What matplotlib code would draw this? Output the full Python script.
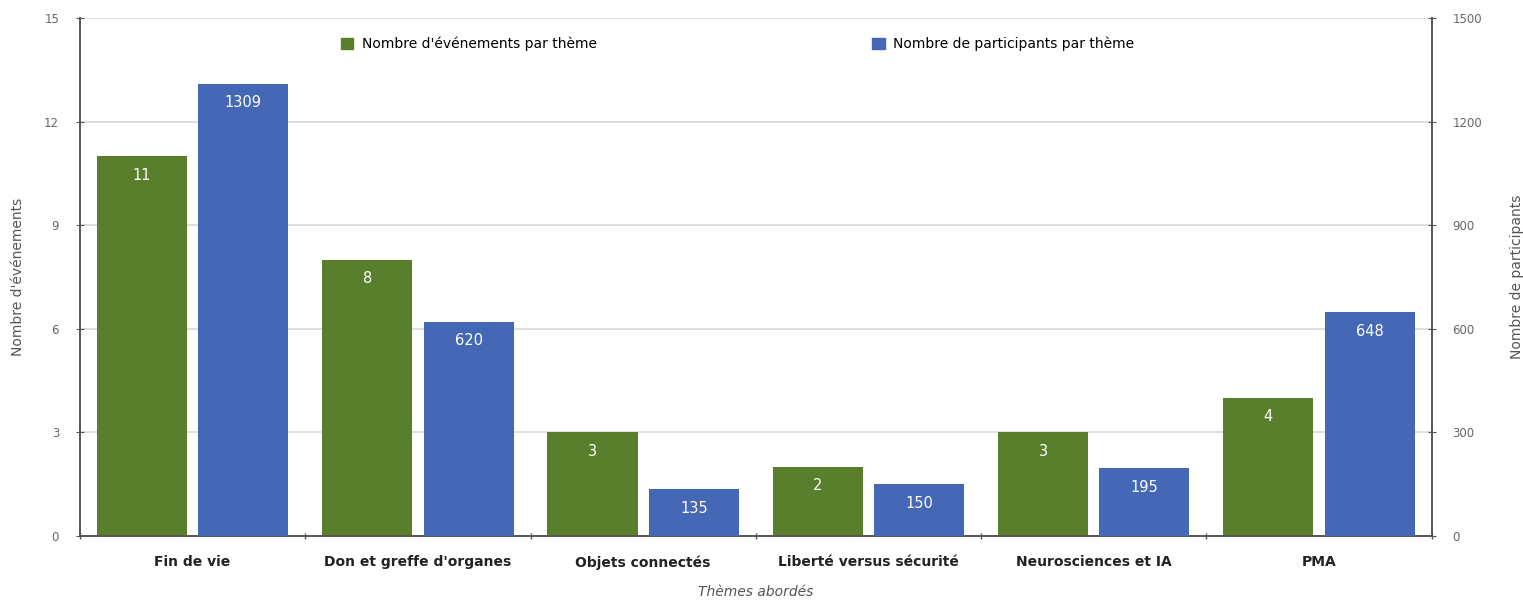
import numpy as np
import matplotlib
matplotlib.use("Agg")
import matplotlib.pyplot as plt
from matplotlib.patches import Patch

# Data
themes = ["Fin de vie", "Don et greffe d'organes", "Objets connectés",
          "Liberté versus sécurité", "Neurosciences et IA", "PMA"]
evenements = [11, 8, 3, 2, 3, 4]
participants = [1309, 620, 135, 150, 195, 648]

left_ticks = [0, 3, 6, 9, 12, 15]
right_ticks = [0, 300, 600, 900, 1200, 1500]

GREEN = "#5a7f2c"
BLUE = "#4467b6"
AXIS = "#555555"
GRID = "#d9d9d9"

fig = plt.figure(figsize=(15.23, 6.0), dpi=100)
ax = fig.add_axes([0.0525, 0.107, 0.8875, 0.863])
ax2 = ax.twinx()

x = np.arange(len(themes))
w = 0.4
b1 = ax.bar(x - 0.225, evenements, width=w, color=GREEN, zorder=3)
b2 = ax2.bar(x + 0.225, participants, width=w, color=BLUE, zorder=3)

for rect, v in zip(b1, evenements):
    ax.text(rect.get_x() + rect.get_width() / 2, v - 0.55, str(v),
            ha="center", va="center", color="white", fontsize=10.5, zorder=4)
for rect, v in zip(b2, participants):
    ax2.text(rect.get_x() + rect.get_width() / 2, v - 55, str(v),
             ha="center", va="center", color="white", fontsize=10.5, zorder=4)

ax.set_xlim(-0.5, len(themes) - 0.5)
ax.set_ylim(0, 15)
ax2.set_ylim(0, 1500)
ax.set_yticks(left_ticks)
ax2.set_yticks(right_ticks)

# category labels between group boundaries, ticks at boundaries
ax.set_xticks(x)
ax.set_xticklabels(themes, fontsize=10, fontweight="bold", color="#222222")
ax.tick_params(axis="x", length=0, pad=14)
ax.set_xticks(np.arange(-0.5, len(themes)), minor=True)
ax.tick_params(axis="x", which="minor", length=5, direction="inout",
               color=AXIS, width=1)

ax.tick_params(axis="y", length=6, direction="inout", color=AXIS,
               labelsize=8.5, labelcolor="#666666", pad=12)
ax2.tick_params(axis="y", length=6, direction="inout", color=AXIS,
                labelsize=8.5, labelcolor="#666666", pad=12)

for t in left_ticks[1:]:
    ax.axhline(t, color=GRID, linewidth=1.2, zorder=1)

for a in (ax, ax2):
    a.spines["top"].set_visible(False)
    for s in ("left", "right", "bottom"):
        a.spines[s].set_color(AXIS)
        a.spines[s].set_linewidth(1.2)

ax.set_ylabel("Nombre d'événements", fontsize=10, color="#555555", labelpad=14)
ax2.set_ylabel("Nombre de participants", fontsize=10, color="#555555", labelpad=20)
ax.set_xlabel("Thèmes abordés", fontsize=10, style="italic", color="#555555",
              labelpad=11)

leg_green = ax2.legend(handles=[Patch(color=GREEN, label="Nombre d'événements par thème")],
                       loc="center left", bbox_to_anchor=(0.193, 0.95),
                       frameon=False, fontsize=10, handlelength=0.9,
                       handleheight=0.9, handletextpad=0.6,
                       borderpad=0, borderaxespad=0)
ax2.add_artist(leg_green)
ax2.legend(handles=[Patch(color=BLUE, label="Nombre de participants par thème")],
           loc="center left", bbox_to_anchor=(0.586, 0.95),
           frameon=False, fontsize=10, handlelength=0.9,
           handleheight=0.9, handletextpad=0.6,
           borderpad=0, borderaxespad=0)

fig.savefig("out.png", dpi=100)
